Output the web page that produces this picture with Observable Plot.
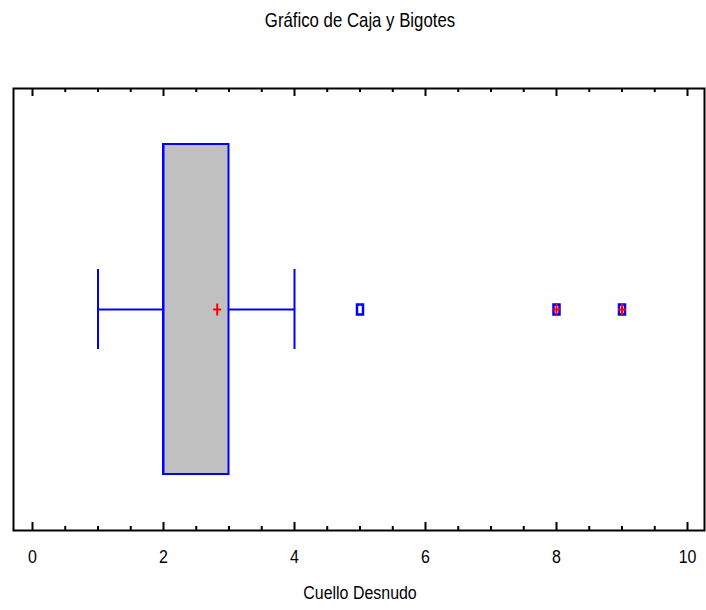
<!DOCTYPE html>
<html>
<head>
<meta charset="utf-8">
<script src="https://cdn.jsdelivr.net/npm/d3@7"></script>
<script src="https://cdn.jsdelivr.net/npm/@observablehq/plot@0.6"></script>
<style>
  html, body { margin: 0; padding: 0; background: #fff; }
  svg { display: block; }
</style>
</head>
<body>
<div id="chart"></div>
<script>
const title = "Gráfico de Caja y Bigotes";
const variableName = "Cuello Desnudo";
const categories = ["Cuello Desnudo"];
const minWhisker = [1];
const q1 = [2];
const median = [2];
const q3 = [3];
const maxWhisker = [4];
const mean = [2.82];
const outliers = [5, 8, 9];
const farOutliers = [8, 9];
const majorTicks = [0, 2, 4, 6, 8, 10];
const minorTicks = [0.5, 1, 1.5, 2.5, 3, 3.5, 4.5, 5, 5.5, 6.5, 7, 7.5, 8.5, 9, 9.5];

const FONT = "'Liberation Sans Narrow', 'Arial Narrow', 'Liberation Sans', Arial, sans-serif";
const BLUE = "#0000ff";
const RED = "#ff0000";
const GRAY = "#c0c0c0";

// tall marker shapes (like the original software's markers), fixed pixel size
const tallRect = { draw(ctx) { ctx.rect(-3, -5, 6, 10); } };
const tallPlus = { draw(ctx) { ctx.moveTo(0, -6); ctx.lineTo(0, 6); ctx.moveTo(-4, 0); ctx.lineTo(4, 0); } };

const boxRow = categories.map((c, i) => ({
  cat: c, lo: minWhisker[i], q1: q1[i], med: median[i], q3: q3[i], hi: maxWhisker[i], mean: mean[i]
}));
const outRows = outliers.map(v => ({cat: categories[0], v}));
const farRows = farOutliers.map(v => ({cat: categories[0], v}));

const plotH = 530 - 88;

const chart = Plot.plot({
  width: 706,
  height: 610,
  marginLeft: 32,
  marginRight: 19,
  marginTop: 88,
  marginBottom: 80,
  style: { fontFamily: FONT, background: "#fff", overflow: "visible" },
  x: { domain: [0, 10], axis: null },
  y: { type: "band", domain: categories, paddingInner: 0, paddingOuter: 0.168, axis: null },
  marks: [
    Plot.frame({ stroke: "#000", strokeWidth: 2, insetLeft: -19, insetRight: -17 }),
    // ticks bottom (inward)
    Plot.ruleX(majorTicks, { x: d => d, insetTop: plotH - 8, stroke: "#000", strokeWidth: 2 }),
    Plot.ruleX(minorTicks, { x: d => d, insetTop: plotH - 4, stroke: "#000", strokeWidth: 2 }),
    // ticks top
    Plot.ruleX(majorTicks, { x: d => d, insetBottom: plotH - 8, stroke: "#000", strokeWidth: 2 }),
    Plot.ruleX(minorTicks, { x: d => d, insetBottom: plotH - 4, stroke: "#000", strokeWidth: 2 }),
    // tick labels
    Plot.text(majorTicks, { x: d => d, text: d => String(d), frameAnchor: "bottom", lineAnchor: "middle", dy: 26, fontSize: 19, fill: "#000", className: "narrow" }),
    // title & x label
    Plot.text([title], { text: d => d, frameAnchor: "top", lineAnchor: "middle", dy: -68, fontSize: 20, fill: "#000", className: "narrow" }),
    Plot.text([variableName], { text: d => d, frameAnchor: "bottom", lineAnchor: "middle", dy: 62, fontSize: 19, fill: "#000", className: "narrow" }),
    // whiskers
    Plot.ruleY(boxRow, { y: "cat", x1: "lo", x2: "q1", stroke: BLUE, strokeWidth: 2 }),
    Plot.ruleY(boxRow, { y: "cat", x1: "q3", x2: "hi", stroke: BLUE, strokeWidth: 2 }),
    Plot.tickX(boxRow, { x: "lo", y: "cat", insetTop: 125, insetBottom: 125, stroke: BLUE, strokeWidth: 2 }),
    Plot.tickX(boxRow, { x: "hi", y: "cat", insetTop: 125, insetBottom: 125, stroke: BLUE, strokeWidth: 2 }),
    // box
    Plot.barX(boxRow, { y: "cat", x1: "q1", x2: "q3", fill: GRAY, stroke: BLUE, strokeWidth: 2 }),
    Plot.tickX(boxRow, { x: "med", y: "cat", stroke: BLUE, strokeWidth: 2 }),
    // mean
    Plot.dot(boxRow, { x: "mean", y: "cat", symbol: tallPlus, stroke: RED, strokeWidth: 2 }),
    // outliers
    Plot.dot(outRows, { x: "v", y: "cat", symbol: tallRect, stroke: BLUE, strokeWidth: 2.5, fill: "none" }),
    Plot.dot(farRows, { x: "v", y: "cat", symbol: tallPlus, stroke: RED, strokeWidth: 2 })
  ]
});
document.getElementById("chart").appendChild(chart);

// condense text horizontally around its anchor (mimics a narrow typeface)
chart.querySelectorAll("g.narrow text").forEach(t => {
  const tr = t.getAttribute("transform") || "";
  t.setAttribute("transform", `${tr} scale(0.84,1)`);
});
</script>
</body>
</html>
